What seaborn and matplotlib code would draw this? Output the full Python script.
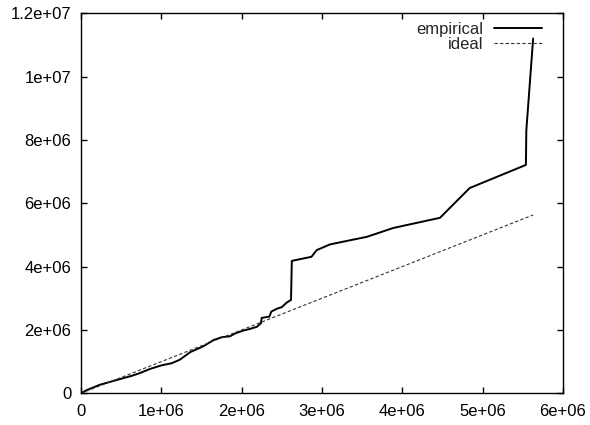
import matplotlib
matplotlib.use("Agg")
import matplotlib.pyplot as plt
import seaborn as sns
import pandas as pd
from matplotlib.ticker import FixedLocator, FixedFormatter

# ---- data ----
emp_x = [0.0, 0.07, 0.235, 0.445, 0.63, 0.735, 0.86, 1.0, 1.13, 1.23, 1.36, 1.52,
         1.65, 1.75, 1.855, 1.92, 2.02, 2.10, 2.19, 2.24, 2.25, 2.345, 2.37, 2.44,
         2.50, 2.56, 2.615, 2.625, 2.87, 2.935, 3.10, 3.56, 3.89, 4.47, 4.84,
         5.54, 5.545, 5.63]
emp_y = [0.0, 0.10, 0.27, 0.42, 0.55, 0.64, 0.77, 0.88, 0.95, 1.06, 1.30, 1.48,
         1.68, 1.77, 1.80, 1.89, 1.98, 2.03, 2.10, 2.21, 2.38, 2.42, 2.58, 2.67,
         2.72, 2.86, 2.95, 4.18, 4.31, 4.52, 4.70, 4.94, 5.22, 5.54, 6.48,
         7.21, 8.30, 11.2]
ideal_x = [0.0, 5.63]
ideal_y = [0.0, 5.63]

x_ticks = [0, 1, 2, 3, 4, 5, 6]
x_labels = ["0", "1e+06", "2e+06", "3e+06", "4e+06", "5e+06", "6e+06"]
y_ticks = [0, 2, 4, 6, 8, 10, 12]
y_labels = ["0", "2e+06", "4e+06", "6e+06", "8e+06", "1e+07", "1.2e+07"]
SCALE = 1e6

emp = pd.DataFrame({"x": [v * SCALE for v in emp_x], "y": [v * SCALE for v in emp_y]})
ideal = pd.DataFrame({"x": [v * SCALE for v in ideal_x], "y": [v * SCALE for v in ideal_y]})

sns.set_style("ticks")
plt.rcParams["font.family"] = ["Liberation Sans", "DejaVu Sans"]
plt.rcParams["font.size"] = 12

fig = plt.figure(figsize=(5.9, 4.25), dpi=100)
ax = fig.add_axes([0.1373, 0.0746, 0.954 - 0.1373, 0.969 - 0.0746])

sns.lineplot(data=emp, x="x", y="y", ax=ax, color="black", linewidth=1.4,
             sort=False, estimator=None, label="empirical")
sns.lineplot(data=ideal, x="x", y="y", ax=ax, color="#333333", linewidth=0.8,
             sort=False, estimator=None, label="ideal", dashes=False)
ax.lines[1].set_dashes([3, 2])

ax.set_xlim(0, 6 * SCALE)
ax.set_ylim(0, 12 * SCALE)
ax.xaxis.set_major_locator(FixedLocator([t * SCALE for t in x_ticks]))
ax.xaxis.set_major_formatter(FixedFormatter(x_labels))
ax.yaxis.set_major_locator(FixedLocator([t * SCALE for t in y_ticks]))
ax.yaxis.set_major_formatter(FixedFormatter(y_labels))
ax.set_xlabel("")
ax.set_ylabel("")

for s in ax.spines.values():
    s.set_visible(True)
    s.set_color("black")
    s.set_linewidth(1.0)
ax.tick_params(direction="in", length=4, width=1.0, top=True, right=True,
               labelsize=12, colors="black")
ax.tick_params(axis="x", pad=8)
ax.tick_params(axis="y", pad=7)

leg = ax.legend(loc="upper right", frameon=False, markerfirst=False,
                handlelength=2.9, handletextpad=0.66, labelspacing=0.0,
                borderaxespad=0.2, borderpad=0.3, fontsize=12,
                bbox_to_anchor=(0.9745, 1.0))

fig.savefig("out.png", dpi=100)
